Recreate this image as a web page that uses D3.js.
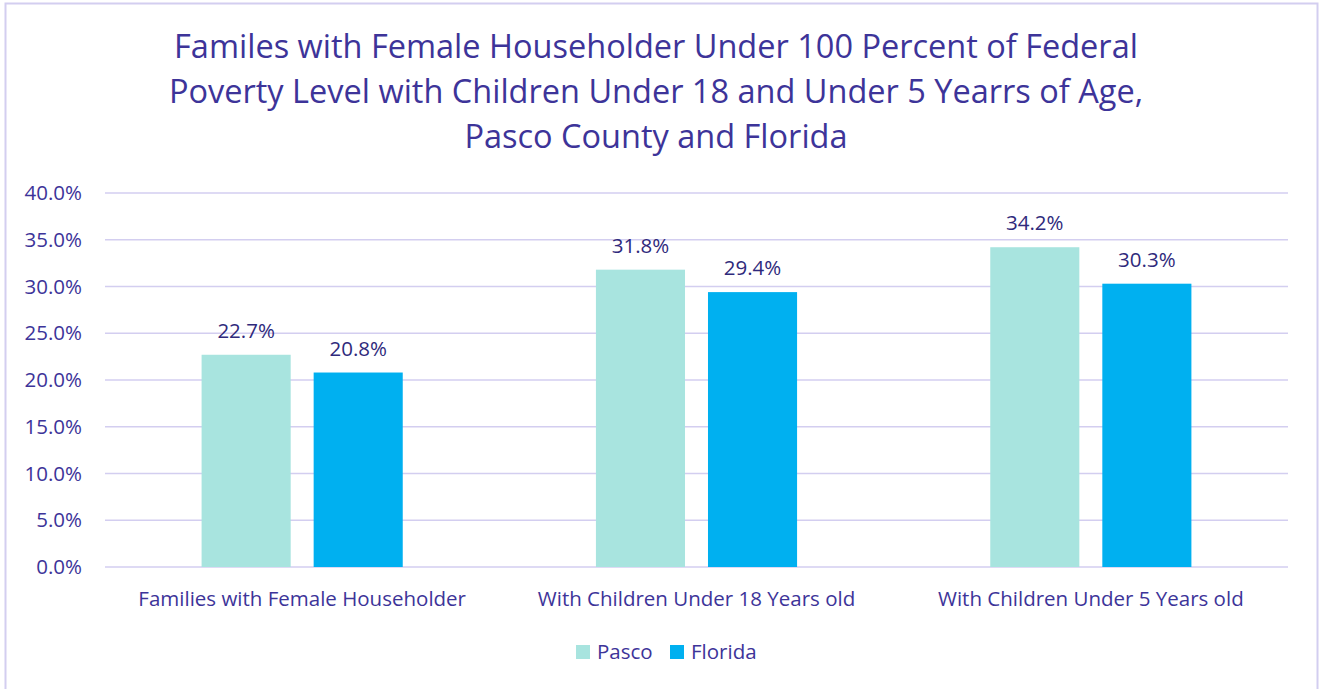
<!DOCTYPE html>
<html>
<head>
<meta charset="utf-8">
<script src="https://cdn.jsdelivr.net/npm/d3@7"></script>
<style>
  body { margin: 0; background: #fff; }
  text { font-family: "Open Sans", sans-serif; fill: #3d3499; }
</style>
</head>
<body>
<div id="chart"></div>
<script>
// chart data
var categories = ["Families with Female Householder", "With Children Under 18 Years old", "With Children Under 5 Years old"];
var seriesNames = ["Pasco", "Florida"];
var pascoValues = [22.7, 31.8, 34.2];
var floridaValues = [20.8, 29.4, 30.3];
var yTicks = [0, 5, 10, 15, 20, 25, 30, 35, 40];
var titleLines = ["Familes with Female Householder Under 100 Percent of Federal",
                  "Poverty Level with Children Under 18 and Under 5 Yearrs of Age,",
                  "Pasco County and Florida"];

var w = 1320, h = 689;
var margin = {top: 193, right: 32, bottom: 122, left: 105};
var colors = ["#a8e4df", "#00b0f0"];
var labelFont = "20.5px";

var svg = d3.select("#chart")
    .append("svg")
    .attr("width", w)
    .attr("height", h);

// outer border
svg.append("rect")
    .attr("x", 5.5).attr("y", 3.5)
    .attr("width", 1312).attr("height", 700)
    .attr("fill", "#fff")
    .attr("stroke", "#d3cef0")
    .attr("stroke-width", 2);

// title
svg.append("text")
    .attr("text-anchor", "middle")
    .style("font-size", "32.5px")
    .selectAll("tspan")
    .data(titleLines)
    .enter()
    .append("tspan")
    .attr("x", 656)
    .attr("y", function(d, i){ return 58 + i * 45; })
    .text(function(d){ return d; });

var xScale = d3.scaleBand()
    .domain(categories)
    .range([margin.left, w - margin.right])
    .paddingInner(0)
    .paddingOuter(0);
var inner = d3.scaleBand()
    .domain(seriesNames)
    .range([0, xScale.bandwidth()])
    .paddingInner(0.205)
    .paddingOuter(0.862);
var yScale = d3.scaleLinear()
    .domain([0, 40])
    .range([h - margin.bottom, margin.top]);

// gridlines
svg.append("g")
    .selectAll("line")
    .data(yTicks)
    .enter()
    .append("line")
    .attr("x1", margin.left)
    .attr("x2", w - margin.right)
    .attr("y1", function(d){ return yScale(d); })
    .attr("y2", function(d){ return yScale(d); })
    .attr("stroke", "#d3cef0")
    .attr("stroke-width", 1.5);

// y axis labels
var yAxis = d3.axisLeft(yScale)
    .tickValues(yTicks)
    .tickSize(0)
    .tickPadding(23)
    .tickFormat(function(d){ return d.toFixed(1) + "%"; });
var ya = svg.append("g")
    .attr("transform", "translate(" + margin.left + ",0)")
    .call(yAxis);
ya.select(".domain").remove();
ya.selectAll("text").style("font-size", labelFont).style("font-family", "'Open Sans', sans-serif").attr("fill", "#3d3499");

// x axis labels
var xAxis = d3.axisBottom(xScale).tickSize(0).tickPadding(24);
var xa = svg.append("g")
    .attr("transform", "translate(0," + (h - margin.bottom) + ")")
    .call(xAxis);
xa.select(".domain").remove();
xa.selectAll("text").style("font-size", labelFont).style("font-family", "'Open Sans', sans-serif").attr("fill", "#3d3499");

// bars
var rows = categories.map(function(c, i){
    return {cat: c, values: [pascoValues[i], floridaValues[i]]};
});
var groups = svg.selectAll(".grp")
    .data(rows)
    .enter()
    .append("g")
    .attr("class", "grp")
    .attr("transform", function(d){ return "translate(" + xScale(d.cat) + ",0)"; });

groups.selectAll("rect")
    .data(function(d){ return d.values.map(function(v, j){ return {s: seriesNames[j], v: v, j: j}; }); })
    .enter()
    .append("rect")
    .attr("x", function(d){ return inner(d.s); })
    .attr("width", inner.bandwidth())
    .attr("y", function(d){ return yScale(d.v); })
    .attr("height", function(d){ return yScale(0) - yScale(d.v); })
    .attr("fill", function(d){ return colors[d.j]; });

groups.selectAll(".lbl")
    .data(function(d){ return d.values.map(function(v, j){ return {s: seriesNames[j], v: v}; }); })
    .enter()
    .append("text")
    .attr("class", "lbl")
    .attr("x", function(d){ return inner(d.s) + inner.bandwidth() / 2; })
    .attr("y", function(d){ return yScale(d.v) - 17; })
    .attr("text-anchor", "middle")
    .style("font-size", labelFont)
    .style("fill", "#2f2a7c")
    .text(function(d){ return d.v.toFixed(1) + "%"; });

// legend
var legend = svg.append("g").attr("transform", "translate(576,652)");
var legendX = [0, 94];
seriesNames.forEach(function(s, i){
    legend.append("rect")
        .attr("x", legendX[i]).attr("y", -7)
        .attr("width", 14).attr("height", 14)
        .attr("fill", colors[i]);
    legend.append("text")
        .attr("x", legendX[i] + 21).attr("y", 7)
        .style("font-size", labelFont)
        .text(s);
});
</script>
</body>
</html>
